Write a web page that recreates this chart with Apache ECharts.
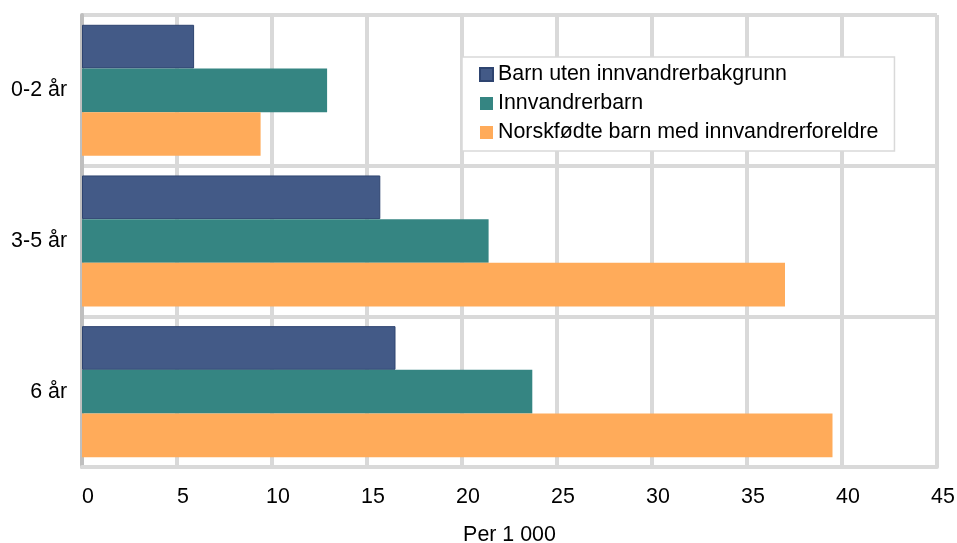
<!DOCTYPE html>
<html>
<head>
<meta charset="utf-8">
<script src="https://cdn.jsdelivr.net/npm/echarts@6/dist/echarts.min.js"></script>
<style>html,body{margin:0;padding:0;background:#fff;}#c{width:957px;height:543px;}</style>
</head>
<body>
<div id="c"></div>
<script>
const categories = ['0-2 år', '3-5 år', '6 år'];
const seriesNames = ['Barn uten innvandrerbakgrunn', 'Innvandrerbarn', 'Norskfødte barn med innvandrerforeldre'];
const barnUten = [5.9, 15.7, 16.5];
const innvandrerbarn = [12.9, 21.4, 23.7];
const norskfodte = [9.4, 37.0, 39.5];
const xTicks = [0, 5, 10, 15, 20, 25, 30, 35, 40, 45];

const colors = ['#435a87', '#358582', '#ffab5a'];
const borders = ['#2e4470', '#358582', '#ffab5a'];
const values = [barnUten, innvandrerbarn, norskfodte];
const FONT = 'Liberation Sans, Arial, sans-serif';

const chart = echarts.init(document.getElementById('c'));
chart.setOption({
  animation: false,
  textStyle: { fontFamily: FONT },
  grid: { left: 82, right: 20, top: 15, bottom: 76, containLabel: false, outerBoundsMode: 'none' },
  legend: {
    orient: 'vertical',
    left: 462, top: 57,
    data: seriesNames,
    icon: 'rect',
    itemWidth: 13, itemHeight: 13,
    itemGap: 8,
    padding: [7, 16, 8, 17],
    backgroundColor: '#fff',
    borderColor: '#d9d9d9', borderWidth: 1.5,
    textStyle: { fontSize: 21.4, color: '#000', fontFamily: FONT }
  },
  xAxis: {
    type: 'value', min: xTicks[0], max: xTicks[xTicks.length - 1], interval: 5,
    name: 'Per 1 000', nameLocation: 'middle', nameGap: 58,
    nameTextStyle: { fontSize: 21.4, color: '#000' },
    axisLine: { show: true, lineStyle: { color: '#d9d9d9', width: 4 } },
    axisTick: { show: false },
    axisLabel: { fontSize: 21.4, color: '#000', margin: 20, padding: [0, 0, 0, 12] },
    splitLine: { show: true, lineStyle: { color: '#d9d9d9', width: 4 } }
  },
  yAxis: {
    type: 'category', data: categories, inverse: true,
    axisLine: { show: true, lineStyle: { color: '#bfbfbf', width: 4 } },
    axisTick: { show: false },
    axisLabel: { fontSize: 21.4, color: '#000', margin: 15 },
    splitLine: { show: true, lineStyle: { color: '#d9d9d9', width: 4 } }
  },
  series: seriesNames.map((n, i) => ({
    name: n, type: 'bar', data: values[i],
    barGap: '0%', barCategoryGap: '13%',
    itemStyle: { color: colors[i], borderColor: borders[i], borderWidth: i === 0 ? 1 : 0 },
    z: 3
  }))
});
</script>
</body>
</html>
